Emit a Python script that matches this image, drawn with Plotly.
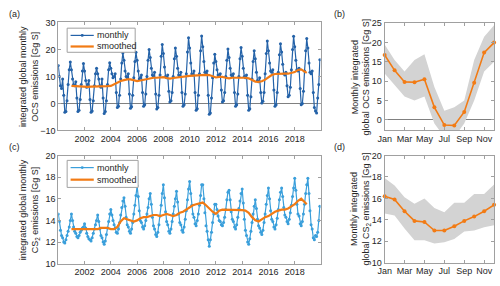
import plotly.graph_objects as go
import pandas as pd

# ---------------- data ----------------
# monthly integrated global OCS emissions [Gg S], Jan 2000 - Dec 2019
ocs_monthly = [
    14, 10, 6.5, 5.5, 9, 3, -3.3, -3, 1, 7, 12.5, 15.3,
    12.5, 9, 7, 6.5, 8, 2, -3, -2.5, 1.5, 7, 12, 14.8,
    12, 8.5, 6, 7, 8.5, 1.5, -3.3, -2.8, 1, 6.5, 11, 13,
    11, 9, 6.5, 6, 9, 2, -3.7, -3, 1, 7, 12.5, 15.1,
    13, 11, 9.5, 10, 11, 4, -1.5, -1, 3, 9, 15, 18.7,
    16, 12, 10, 9.5, 11, 3.5, -1.8, -1.2, 3, 9.5, 15.5, 18.9,
    16, 12, 9, 9.5, 10.5, 4, -1, -0.5, 3.5, 10, 16, 20,
    17, 13, 10.5, 10, 11.5, 3.5, -2.1, -1.5, 3, 10.5, 17.5, 21.8,
    18.5, 13.5, 10, 9.5, 10.5, 4.5, 0.5, 1, 4, 10, 16.5, 20.5,
    17.5, 13, 10.5, 10, 11.5, 4, -1, -0.5, 3.5, 11, 19, 24.3,
    20.5, 15, 11, 10.5, 12, 4, -2.5, -2, 3, 11, 19.5, 25,
    21, 15.5, 11.5, 11, 12, 3, -4, -3.5, 2, 9.5, 15, 18.2,
    15.5, 12.5, 10.5, 10, 11, 5, 0.5, 1, 4, 10, 16, 20.1,
    17, 13, 10.5, 10, 11, 4, -1, -0.5, 3.5, 10, 16.5, 20.7,
    17.5, 13, 10, 9.5, 10.5, 3, -2.5, -2, 2.5, 9, 15.5, 19.5,
    16.5, 11.5, 8.5, 8, 9.5, 4, 0.2, 0.8, 4, 11, 18.5, 23.1,
    19.5, 15, 12, 11.5, 12.5, 5, -1, -0.5, 4, 11.5, 18, 22.1,
    19, 14.5, 11, 10.5, 11.5, 6.5, 2.5, 3, 6, 12.5, 20, 24.9,
    21, 16, 12.5, 12, 13, 5.5, -0.5, 0, 4.5, 12, 19.5, 24,
    20.5, 15, 11.5, 11, 12, 4, -1.5, -2.8, -3.5, 2, 7, 16.2,
]

# smoothed OCS series, quarterly readings Jan 2001 - Oct 2018, plus Dec 2018
ocs_smoothed = [
    6.5, 6.4, 6.4, 6.3,
    6.2, 6.1, 6.2, 6.2,
    6.3, 6.3, 6.4, 6.4,
    6.5, 7.2, 7.9, 8.3,
    8.6, 8.9, 8.9, 8.6,
    8.3, 8.5, 8.8, 9.1,
    9.3, 9.5, 9.5, 9.6,
    9.7, 9.4, 9.2, 9.4,
    9.6, 9.8, 9.9, 10.1,
    10.2, 10.3, 10.4, 10.5,
    10.6, 10.6, 10.5, 10.0,
    9.6, 9.8, 9.8, 9.5,
    9.3, 9.5, 9.5, 9.6,
    9.6, 9.5, 9.3, 8.7,
    8.1, 8.0, 8.2, 8.8,
    9.8, 10.5, 10.9, 11.0,
    11.0, 11.0, 11.0, 11.2,
    11.6, 12.4, 12.6, 11.8,
    11.3,
]

# monthly integrated global CS2 emissions [Gg S], Jan 2000 - Dec 2019
cs2_monthly = [
    14.6, 13.9, 13.1, 12.6, 12.4, 12.0, 11.9, 12.2, 12.6, 13.0, 13.4, 14.0,
    14.6, 14.0, 13.4, 13.0, 12.8, 12.5, 12.4, 12.6, 12.9, 13.1, 13.3, 13.4,
    13.7, 13.3, 12.8, 12.5, 12.3, 12.2, 12.1, 12.4, 12.8, 13.2, 13.6, 14.0,
    14.5, 13.9, 13.2, 12.6, 12.4, 12.0, 11.8, 12.1, 12.7, 13.3, 13.9, 14.6,
    15.0, 14.5, 14.0, 13.6, 13.3, 12.9, 12.8, 13.2, 13.8, 14.5, 15.2, 15.8,
    16.1, 15.3, 14.3, 13.6, 13.4, 13.0, 12.8, 13.2, 13.8, 14.6, 15.4, 16.3,
    17.2, 16.2, 14.9, 14.0, 13.8, 13.4, 13.2, 13.5, 14.0, 14.6, 15.2, 16.0,
    16.5, 15.5, 14.3, 13.5, 13.2, 12.7, 12.5, 12.9, 13.6, 14.4, 15.4, 16.5,
    17.3, 16.1, 14.8, 13.9, 13.6, 13.0, 12.8, 13.2, 13.9, 14.6, 15.3, 16.0,
    16.7, 15.7, 14.6, 13.8, 13.6, 13.1, 12.9, 13.4, 14.1, 14.9, 15.9, 16.9,
    17.6, 16.5, 15.4, 14.6, 14.3, 13.7, 13.5, 14.0, 14.6, 15.4, 16.3, 17.3,
    17.3, 16.0, 14.7, 13.5, 13.0, 12.2, 11.6, 12.2, 12.9, 13.8, 14.6, 15.5,
    15.5, 15.0, 14.4, 14.0, 13.9, 13.6, 13.5, 13.8, 14.3, 15.0, 15.9, 16.6,
    16.8, 15.9, 14.8, 14.1, 13.9, 13.4, 13.2, 13.6, 14.3, 15.1, 15.8, 16.5,
    16.9, 15.6, 14.1, 13.1, 12.6, 12.0, 11.8, 12.3, 13.0, 13.8, 14.6, 15.3,
    15.9, 15.1, 14.1, 13.5, 13.3, 12.9, 12.7, 13.1, 13.8, 14.6, 15.5, 16.3,
    17.0, 16.0, 14.9, 14.1, 13.9, 13.4, 13.2, 13.6, 14.2, 15.0, 15.9, 16.6,
    17.0, 16.2, 15.2, 14.5, 14.3, 13.9, 13.7, 14.1, 14.7, 15.4, 16.2, 17.0,
    17.9, 16.8, 15.5, 14.6, 14.4, 13.7, 13.5, 13.9, 14.6, 15.5, 16.5, 17.3,
    17.9, 16.5, 14.9, 13.6, 13.2, 12.4, 12.2, 12.6, 12.5, 12.9, 14.0, 15.3,
]

# smoothed CS2 series, quarterly readings Jan 2001 - Oct 2018, plus Dec 2018
cs2_smoothed = [
    13.2, 13.2, 13.2, 13.2,
    13.2, 13.2, 13.2, 13.2,
    13.2, 13.3, 13.3, 13.3,
    13.2, 13.2, 13.4, 13.9,
    14.2, 14.1, 14.0, 13.9,
    14.0, 14.2, 14.3, 14.3,
    14.4, 14.5, 14.5, 14.4,
    14.5, 14.6, 14.5, 14.4,
    14.5, 14.7, 14.8, 15.0,
    15.2, 15.4, 15.5, 15.6,
    15.65, 15.4, 15.1, 14.8,
    14.6, 14.9, 15.0, 15.0,
    15.0, 15.0, 15.0, 14.95,
    14.95, 14.9, 14.7, 14.3,
    14.0, 13.9, 14.1, 14.3,
    14.4, 14.6, 14.8, 14.9,
    15.0, 15.0, 15.1, 15.3,
    15.5, 15.8, 16.0, 15.7,
    15.5,
]

# monthly climatology (panels b, d)
month_labels = ["Jan", "Mar", "May", "Jul", "Sep", "Nov"]
ocs_clim = [16.8, 12.8, 9.8, 9.7, 10.5, 3.2, -1.4, -1.5, 2.0, 9.6, 17.4, 20.0]
ocs_clim_upper = [19.5, 15.5, 12.5, 15.5, 17.0, 8.5, 2.3, 3.2, 5.0, 15.5, 21.5, 24.5]
ocs_clim_lower = [12.0, 9.0, 6.0, 5.0, 6.0, -1.0, -4.5, -4.5, -1.0, 5.0, 12.5, 15.0]

cs2_clim = [16.2, 15.9, 14.8, 13.9, 13.8, 13.0, 13.0, 13.4, 13.9, 14.3, 14.8, 15.4]
cs2_clim_upper = [17.9, 17.2, 16.1, 15.5, 16.0, 15.1, 14.7, 15.6, 15.6, 16.4, 16.4, 17.3]
cs2_clim_lower = [14.6, 14.4, 13.2, 12.1, 12.1, 11.8, 11.9, 12.2, 12.9, 13.0, 13.3, 13.5]

year_ticks = [2002, 2004, 2006, 2008, 2010, 2012, 2014, 2016, 2018]

# ---------------- dates ----------------
months = pd.date_range("2000-01-01", periods=len(ocs_monthly), freq="MS")
smooth_dates = list(pd.date_range("2001-01-01", periods=len(ocs_smoothed) - 1, freq="3MS")) + [pd.Timestamp("2018-12-01")]
month_idx = list(range(1, 13))

# ---------------- style ----------------
BLUE_DARK = "#2462a8"
BLUE_LIGHT = "#3a9fdb"
ORANGE = "#f27b14"
BAND = "#d3d3d3"
AX = "#a0a0a0"
TXT = "#262626"
FONT = "Liberation Sans, Arial, sans-serif"

fig = go.Figure()

# (a)
fig.add_trace(go.Scatter(x=months, y=ocs_monthly, mode="lines+markers", name="monthly",
                         line=dict(color=BLUE_DARK, width=1.2), marker=dict(size=3, color=BLUE_DARK),
                         xaxis="x", yaxis="y", showlegend=False))
fig.add_trace(go.Scatter(x=smooth_dates, y=ocs_smoothed, mode="lines", name="smoothed",
                         line=dict(color=ORANGE, width=2.2), xaxis="x", yaxis="y", showlegend=False))
# (b)
fig.add_trace(go.Scatter(x=month_idx, y=ocs_clim_lower, mode="lines", line=dict(width=0, color=BAND),
                         showlegend=False, hoverinfo="skip", xaxis="x2", yaxis="y2"))
fig.add_trace(go.Scatter(x=month_idx, y=ocs_clim_upper, mode="lines", line=dict(width=0, color=BAND),
                         fill="tonexty", fillcolor=BAND, showlegend=False, hoverinfo="skip",
                         xaxis="x2", yaxis="y2"))
fig.add_trace(go.Scatter(x=month_idx, y=ocs_clim, mode="lines+markers", line=dict(color=ORANGE, width=1.6),
                         marker=dict(size=4, color=ORANGE), showlegend=False, cliponaxis=False,
                         xaxis="x2", yaxis="y2"))
# (c)
fig.add_trace(go.Scatter(x=months, y=cs2_monthly, mode="lines+markers", name="monthly",
                         line=dict(color=BLUE_LIGHT, width=1.2), marker=dict(size=3, color=BLUE_LIGHT),
                         xaxis="x3", yaxis="y3", showlegend=False))
fig.add_trace(go.Scatter(x=smooth_dates, y=cs2_smoothed, mode="lines", name="smoothed",
                         line=dict(color=ORANGE, width=2.2), xaxis="x3", yaxis="y3", showlegend=False))
# (d)
fig.add_trace(go.Scatter(x=month_idx, y=cs2_clim_lower, mode="lines", line=dict(width=0, color=BAND),
                         showlegend=False, hoverinfo="skip", xaxis="x4", yaxis="y4"))
fig.add_trace(go.Scatter(x=month_idx, y=cs2_clim_upper, mode="lines", line=dict(width=0, color=BAND),
                         fill="tonexty", fillcolor=BAND, showlegend=False, hoverinfo="skip",
                         xaxis="x4", yaxis="y4"))
fig.add_trace(go.Scatter(x=month_idx, y=cs2_clim, mode="lines+markers", line=dict(color=ORANGE, width=1.6),
                         marker=dict(size=4, color=ORANGE), showlegend=False, cliponaxis=False,
                         xaxis="x4", yaxis="y4"))

W, H = 500, 286
def px(x):
    return x / W
def py(y):
    return 1 - y / H

common = dict(showline=True, linecolor=AX, linewidth=1, mirror="ticks", ticks="inside",
              ticklen=3, tickcolor=AX, showgrid=False, zeroline=False,
              tickfont=dict(family=FONT, size=9, color=TXT))

date_x = dict(type="date", range=["2000-01-01", "2019-12-20"],
              tickvals=[f"{y}-01-01" for y in year_ticks], ticktext=[str(y) for y in year_ticks],
              **common)
month_x = dict(range=[1, 12], tickvals=[1, 3, 5, 7, 9, 11], ticktext=month_labels, **common)

fig.update_layout(
    width=W, height=H, margin=dict(l=0, r=0, t=0, b=0),
    paper_bgcolor="white", plot_bgcolor="white",
    font=dict(family=FONT, size=9, color=TXT),
    showlegend=False,
    xaxis=dict(domain=[px(52), px(318)], anchor="y", **date_x),
    yaxis=dict(domain=[py(130), py(18)], anchor="x", range=[-10, 30], dtick=10,
               **{**common, "zeroline": True}, zerolinecolor="#808080", zerolinewidth=1),
    xaxis2=dict(domain=[px(383), px(494)], anchor="y2", **month_x),
    yaxis2=dict(domain=[py(130), py(19)], anchor="x2", range=[-2.8, 25], tickvals=[0, 5, 10, 15, 20, 25],
                **{**common, "zeroline": True}, zerolinecolor="#808080", zerolinewidth=1),
    xaxis3=dict(domain=[px(52), px(318)], anchor="y3", **date_x),
    yaxis3=dict(domain=[py(268), py(156)], anchor="x3", range=[10, 20], dtick=2, **common),
    xaxis4=dict(domain=[px(383), px(494)], anchor="y4", **month_x),
    yaxis4=dict(domain=[py(267), py(156)], anchor="x4", range=[10, 20], dtick=2, **common),
)

# panel letters
for t, x, y in [("(a)", 8, 9), ("(b)", 337, 9), ("(c)", 8, 147), ("(d)", 337, 147)]:
    fig.add_annotation(xref="paper", yref="paper", text=t, x=px(x), y=py(y), showarrow=False,
                       xanchor="center", yanchor="middle", font=dict(family=FONT, size=9, color=TXT))

# y-axis titles
ytitles = [
    ("integrated global monthly<br>OCS emissions [Gg S]", 23, 74),
    ("Monthly integrated<br>global OCS emissions [Gg S]", 359, 74),
    ("integrated global monthly<br>CS<sub>2</sub> emissions [Gg S]", 23, 212),
    ("Monthly integrated<br>global CS<sub>2</sub> emissions [Gg S]", 359, 211),
]
for t, x, y in ytitles:
    fig.add_annotation(xref="paper", yref="paper", text=t, x=px(x), y=py(y), showarrow=False,
                       textangle=-90, xanchor="center", yanchor="middle",
                       font=dict(family=FONT, size=9, color=TXT))

# legends (box, line samples, labels) for panels (a) and (c)
legend_specs = [
    # box x0, x1, y0, y1, row1 y, row2 y, monthly colour
    (61, 130, 24, 49, 31.5, 43, BLUE_DARK),
    (61, 133, 161, 189, 168.5, 181, BLUE_LIGHT),
]
for x0, x1, y0, y1, r1, r2, col in legend_specs:
    fig.add_shape(type="rect", xref="paper", yref="paper", x0=px(x0), x1=px(x1), y0=py(y1), y1=py(y0),
                  line=dict(color=AX, width=1), fillcolor="white", layer="above")
    fig.add_shape(type="line", xref="paper", yref="paper", x0=px(64.5), x1=px(88), y0=py(r1), y1=py(r1),
                  line=dict(color=col, width=1.2), layer="above")
    fig.add_shape(type="circle", xref="paper", yref="paper", x0=px(74.8), x1=px(77.8),
                  y0=py(r1 + 1.5), y1=py(r1 - 1.5), line=dict(color=col, width=0), fillcolor=col,
                  layer="above")
    fig.add_shape(type="line", xref="paper", yref="paper", x0=px(64.5), x1=px(88), y0=py(r2), y1=py(r2),
                  line=dict(color=ORANGE, width=2.2), layer="above")
    for t, r in [("monthly", r1), ("smoothed", r2)]:
        fig.add_annotation(xref="paper", yref="paper", text=t, x=px(89.5), y=py(r), showarrow=False,
                           xanchor="left", yanchor="middle", font=dict(family=FONT, size=9, color=TXT))

fig.write_html("out.html", config={"displayModeBar": False},
               post_script="document.body.style.margin='0';document.body.style.overflow='hidden';")
